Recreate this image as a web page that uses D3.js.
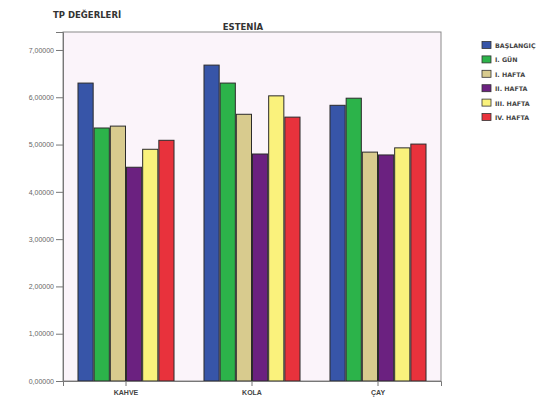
<!DOCTYPE html>
<html>
<head>
<meta charset="utf-8">
<script src="https://cdn.jsdelivr.net/npm/d3@7"></script>
<style>
  body { margin: 0; background: #fff; }
  svg { display: block; font-family: "DejaVu Sans", Arial, sans-serif; }
</style>
</head>
<body>
<svg id="chart" width="544" height="403"></svg>
<script>
// TP values by drink and measurement time
const categories = ["KAHVE", "KOLA", "ÇAY"];
const seriesNames = ["BAŞLANGIÇ", "I. GÜN", "I. HAFTA", "II. HAFTA", "III. HAFTA", "IV. HAFTA"];
const baslangic = [6.30, 6.68, 5.83];
const gun1     = [5.35, 6.30, 5.98];
const hafta1   = [5.39, 5.64, 4.84];
const hafta2   = [4.52, 4.80, 4.78];
const hafta3   = [4.90, 6.03, 4.93];
const hafta4   = [5.09, 5.58, 5.01];
const yTicks = [0, 1, 2, 3, 4, 5, 6, 7];
const colors = ["#3755a8", "#2cb34a", "#d8cb8e", "#6b2180", "#faf27c", "#e8323c"];

const seriesValues = [baslangic, gun1, hafta1, hafta2, hafta3, hafta4];

const svg = d3.select("#chart");
const m = { left: 63, right: 441, top: 32, bottom: 381 };

const y = d3.scaleLinear().domain([0, 7.38]).range([m.bottom, m.top]);
const x0 = d3.scaleBand().domain(categories).range([m.left, m.right]).paddingInner(0.23).paddingOuter(0.115);
const x1 = d3.scaleBand().domain(seriesNames).range([0, x0.bandwidth()]);

// plot background and frame
svg.append("rect")
  .attr("x", m.left).attr("y", m.top)
  .attr("width", m.right - m.left).attr("height", m.bottom - m.top)
  .attr("fill", "#fbf4fa").attr("stroke", "#8a8a8a").attr("stroke-width", 1);

// bars
const groups = svg.append("g").selectAll("g")
  .data(categories).join("g")
  .attr("transform", d => `translate(${x0(d)},0)`);

groups.selectAll("rect")
  .data((c, ci) => seriesNames.map((s, si) => ({ s, si, v: seriesValues[si][ci] })))
  .join("rect")
  .attr("x", d => x1(d.s) + 0.5)
  .attr("width", x1.bandwidth() - 1)
  .attr("y", d => y(d.v))
  .attr("height", d => y(0) - y(d.v))
  .attr("fill", d => colors[d.si])
  .attr("stroke", "#2b2b2b")
  .attr("stroke-width", 1);

// y axis
const yAxis = d3.axisLeft(y).tickValues(yTicks).tickSize(7).tickPadding(2)
  .tickFormat(d => d3.format(".5f")(d).replace(".", ","));
const ya = svg.append("g").attr("transform", `translate(${m.left},0)`).call(yAxis);
ya.select(".domain").attr("stroke", "#777");
ya.selectAll(".tick line").attr("stroke", "#777");
ya.selectAll(".tick text").attr("fill", "#666").style("font-size", "7px");

// x axis
const xAxis = d3.axisBottom(x0).tickSize(5).tickPadding(4);
const xa = svg.append("g").attr("transform", `translate(0,${m.bottom})`).call(xAxis);
xa.select(".domain").attr("stroke", "#777");
xa.selectAll(".tick line").attr("stroke", "#777");
xa.selectAll(".tick text").attr("fill", "#444").style("font-size", "7px").style("font-weight", "bold");

// titles
svg.append("text").attr("x", 53).attr("y", 18)
  .attr("fill", "#333").style("font-size", "8.5px").style("font-weight", "bold")
  .text("TP DEĞERLERİ");
svg.append("text").attr("x", 243).attr("y", 30).attr("text-anchor", "middle")
  .attr("fill", "#333").style("font-size", "8.5px").style("font-weight", "bold")
  .text("ESTENİA");

// legend
const lg = svg.append("g").selectAll("g")
  .data(seriesNames).join("g")
  .attr("transform", (d, i) => `translate(482,${41.5 + i * 14.4})`);
lg.append("rect").attr("width", 9).attr("height", 7)
  .attr("fill", (d, i) => colors[i]).attr("stroke", "#333").attr("stroke-width", 0.8);
lg.append("text").attr("x", 13).attr("y", 6.5)
  .attr("fill", "#444").style("font-size", "6.3px").style("font-weight", "bold")
  .text(d => d);
</script>
</body>
</html>
